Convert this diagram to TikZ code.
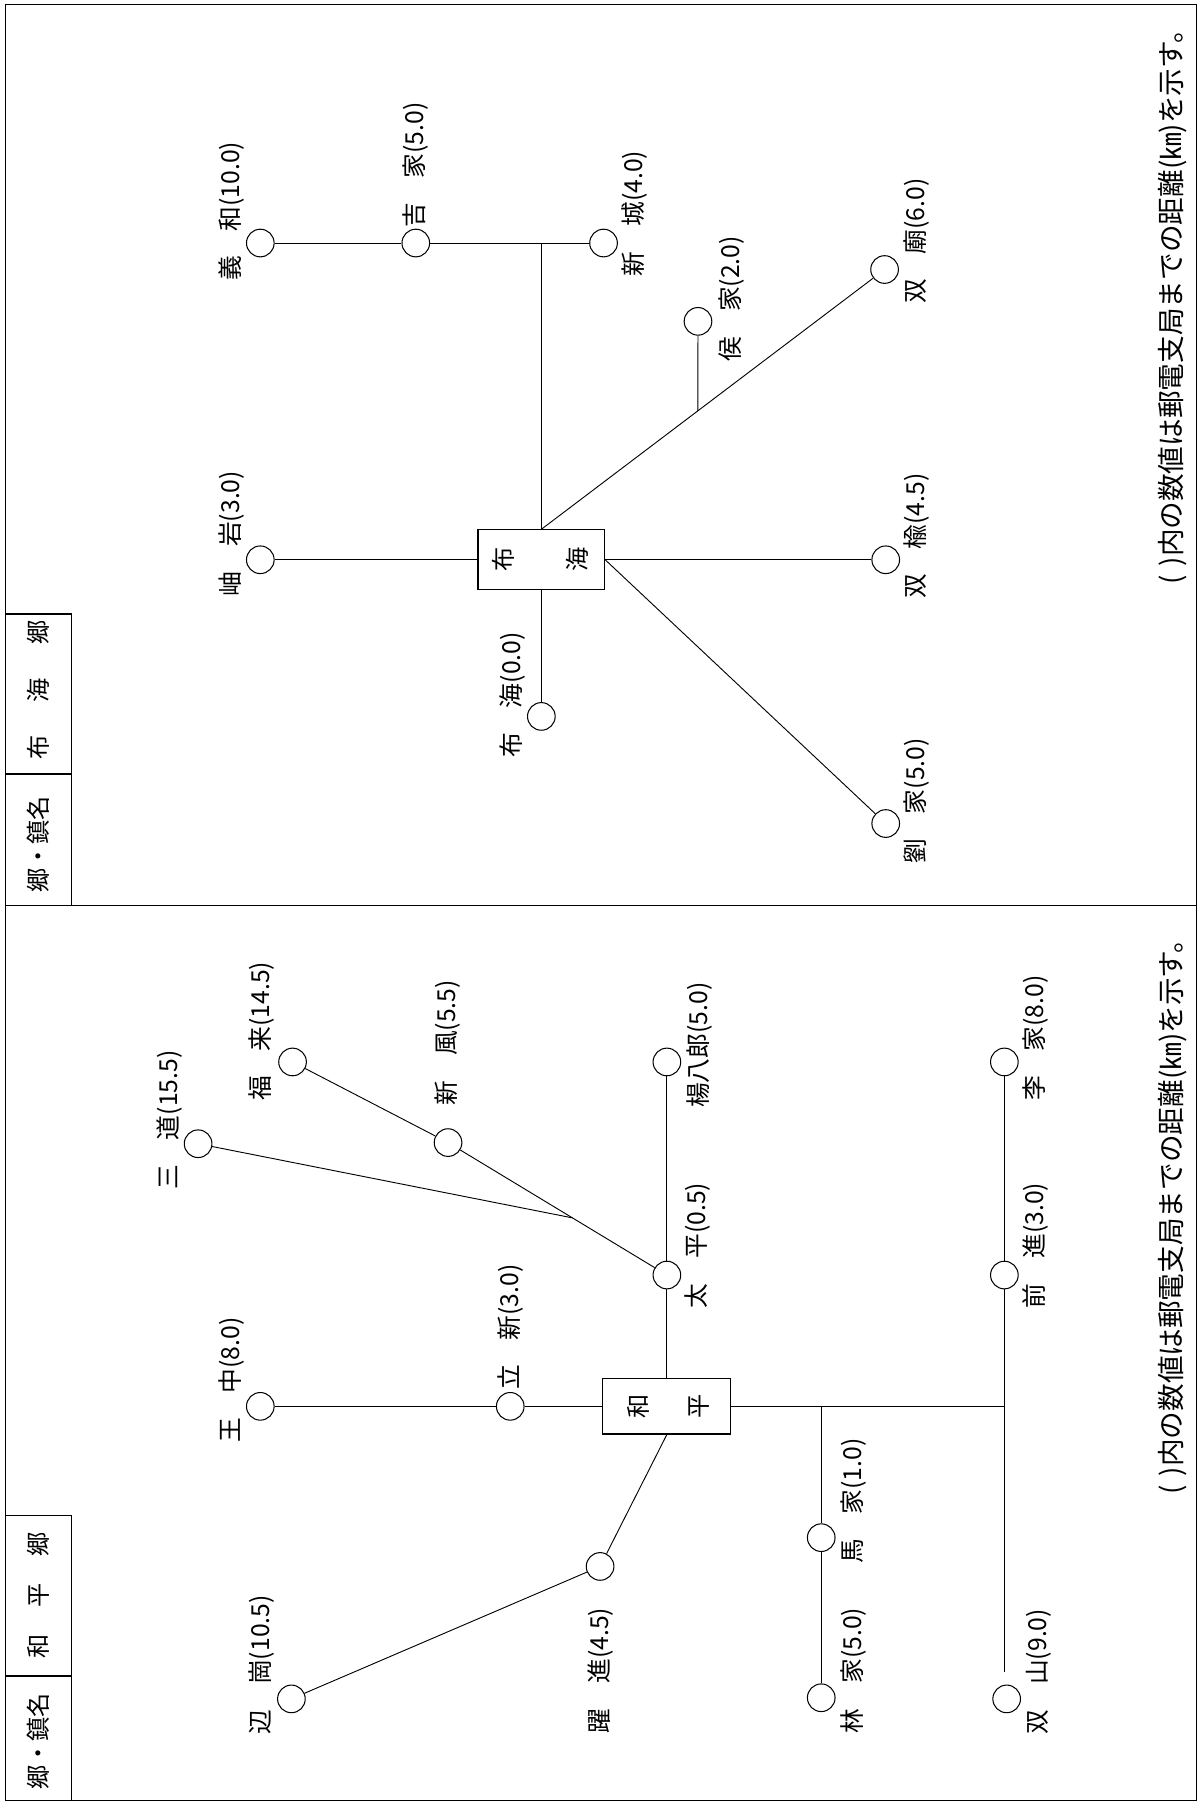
\documentclass[tikz,border=0pt]{standalone}
\usepackage{fontspec}
\setmainfont{Noto Sans CJK JP}
\usetikzlibrary{calc}
\begin{document}
\begin{tikzpicture}[x=1pt,y=-1pt,
  stn/.style={circle,draw,line width=0.9pt,minimum size=24pt,inner sep=0pt},
  lbl/.style={rotate=90,anchor=west,inner sep=0pt,font=\fontsize{21.5}{21.5}\selectfont},
  notelbl/.style={rotate=90,anchor=west,inner sep=0pt,font=\fontsize{24}{24}\selectfont},
  ctr/.style={rotate=90,inner sep=0pt,font=\fontsize{21}{21}\selectfont},
  office/.style={draw,line width=0.9pt,minimum width=110pt,minimum height=52pt,inner sep=0pt},
  wire/.style={line width=0.8pt},
  borderline/.style={line width=1.1pt}]
\useasboundingbox (0,0) rectangle (1044,1568);
% frame
\draw[borderline] (5,4) rectangle (1039,1563);
\draw[borderline] (5,786) -- (1039,786);
% header boxes
\draw[borderline] (5,533) rectangle (62,786);
\draw[borderline] (5,672) -- (62,672);
\node[ctr] (hdrA) at (33,599) {布\hspace{29pt}海\hspace{29pt}郷};
\node[ctr] (hdrB) at (33,733) {郷・鎮名};
\draw[borderline] (5,1316) rectangle (62,1563);
\draw[borderline] (5,1455) -- (62,1455);
\node[ctr] (hdrC) at (33,1385) {和\hspace{23pt}平\hspace{23pt}郷};
\node[ctr] (hdrD) at (33,1512) {郷・鎮名};

% ===== top panel: 布海郷 =====
\node[stn] (yihe) at (226,211) {};
\node[stn] (jijia) at (361,211) {};
\node[stn] (xincheng) at (524,211) {};
\coordinate (j1) at (470,211);
\node[office] (buhai) at (470,486) {};
\node[ctr] (buhaiA) at (437,486) {布};
\node[ctr] (buhaiB) at (501,486) {海};
\node[stn] (xiuyan) at (226,486) {};
\node[stn] (buhaistn) at (470,622) {};
\node[stn] (shuangyu) at (769,486) {};
\node[stn] (liujia) at (769,715) {};
\node[stn] (shuangmiao) at (768,234) {};
\node[stn] (houjia) at (606,279) {};
\coordinate (j2) at ($(buhai.north)!0.456!(shuangmiao)$);

\draw[wire] (yihe) -- (jijia);
\draw[wire] (jijia) -- (xincheng);
\draw[wire] (j1) -- (buhai.north);
\draw[wire] (buhai.north) -- (shuangmiao);
\draw[wire] (houjia) -- (j2);
\draw[wire] (xiuyan) -- (buhai.west);
\draw[wire] (buhai.east) -- (shuangyu);
\draw[wire] (buhai.east) -- (liujia);
\draw[wire] (buhai.south) -- (buhaistn);

\node[lbl] (l1) at (201,244) {義　和(10.0)};
\node[lbl] (l2) at (361,198) {吉　家(5.0)};
\node[lbl] (l3) at (551,240) {新　城(4.0)};
\node[lbl] (l4) at (635,314) {侯　家(2.0)};
\node[lbl] (l5) at (796,264) {双　廟(6.0)};
\node[lbl] (l6) at (201,518) {岫　岩(3.0)};
\node[lbl] (l7) at (445,658) {布　海(0.0)};
\node[lbl] (l8) at (796,520) {双　楡(4.5)};
\node[lbl] (l9) at (796,750) {劉　家(5.0)};

\node[notelbl] (note1) at (1018,508) {(\hspace{8pt})内の数値は郵電支局までの距離(㎞)を示す。};

% ===== bottom panel: 和平郷 =====
\node[office,minimum width=111pt,minimum height=48pt] (heping) at (579,1221) {};
\node[ctr] (hepingA) at (554,1221) {和};
\node[ctr] (hepingB) at (607,1221) {平};
\node[stn] (wangzhong) at (226,1221) {};
\node[stn] (lixin) at (443,1221) {};
\node[stn] (taiping) at (579,1107) {};
\node[stn] (yangbalang) at (579,922) {};
\node[stn] (xinfeng) at (389,992) {};
\node[stn] (fulai) at (254,922) {};
\node[stn] (sandao) at (172,993) {};
\coordinate (j3) at ($(taiping)!0.4316!(xinfeng)$);
\node[stn] (yuejin) at (521,1360) {};
\node[stn] (biangang) at (253,1475) {};
\coordinate (j4) at (713,1221);
\node[stn] (majia) at (713,1335) {};
\node[stn] (linjia) at (713,1474) {};
\coordinate (j5) at (872,1221);
\node[stn] (qianjin) at (872,1107) {};
\node[stn] (lijia) at (872,922) {};
\coordinate (e5) at (872,1452);
\node[stn] (shuangshan) at (874,1475) {};

\draw[wire] (wangzhong) -- (lixin);
\draw[wire] (lixin) -- (heping.west);
\draw[wire] (heping.north) -- (taiping);
\draw[wire] (taiping) -- (yangbalang);
\draw[wire] (taiping) -- (xinfeng);
\draw[wire] (xinfeng) -- (fulai);
\draw[wire] (sandao) -- (j3);
\draw[wire] (heping.south) -- (yuejin);
\draw[wire] (yuejin) -- (biangang);
\draw[wire] (heping.east) -- (j5);
\draw[wire] (j4) -- (majia);
\draw[wire] (majia) -- (linjia);
\draw[wire] (lijia) -- (qianjin);
\draw[wire] (qianjin) -- (j5);
\draw[wire] (j5) -- (e5);

\node[lbl] (m1) at (201,1253) {王　中(8.0)};
\node[lbl] (m2) at (443,1207) {立　新(3.0)};
\node[lbl] (m3) at (606,1136) {太　平(0.5)};
\node[lbl] (m4) at (607,962) {楊八郎(5.0)};
\node[lbl] (m5) at (147,1033) {三　道(15.5)};
\node[lbl] (m6) at (227,956) {福　来(14.5)};
\node[lbl] (m7) at (389,960) {新　風(5.5)};
\node[lbl] (m8) at (521,1505) {躍　進(4.5)};
\node[lbl] (m9) at (227,1506) {辺　崗(10.5)};
\node[lbl] (m10) at (741,1358) {馬　家(1.0)};
\node[lbl] (m11) at (741,1505) {林　家(5.0)};
\node[lbl] (m12) at (899,1136) {前　進(3.0)};
\node[lbl] (m13) at (899,956) {李　家(8.0)};
\node[lbl] (m14) at (902,1506) {双　山(9.0)};

\node[notelbl] (note2) at (1018,1298) {(\hspace{8pt})内の数値は郵電支局までの距離(㎞)を示す。};
\end{tikzpicture}
\end{document}
